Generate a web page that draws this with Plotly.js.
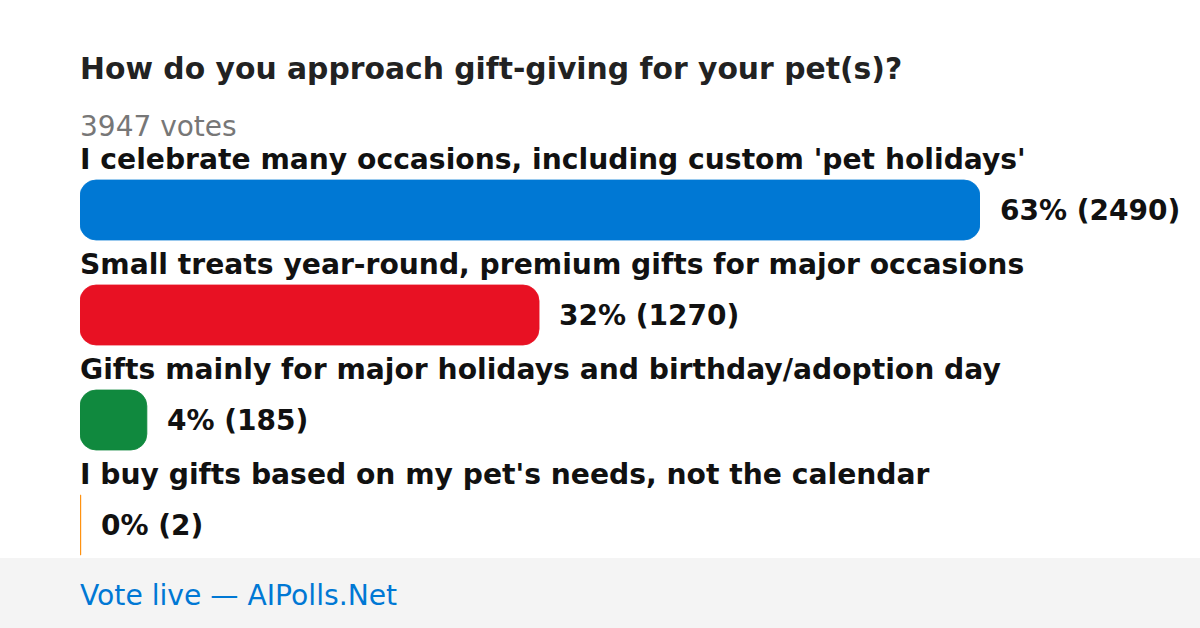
<!DOCTYPE html>
<html><head><meta charset="utf-8">
<script src="https://cdn.plot.ly/plotly-3.0.1.min.js"></script>
<style>html,body{margin:0;padding:0;background:#fff}#c{width:1200px;height:628px}</style>
</head><body><div id="c"></div>
<script>
const title = "How do you approach gift-giving for your pet(s)?";
const totalVotes = 3947;
const categories = [
  "I celebrate many occasions, including custom 'pet holidays'",
  "Small treats year-round, premium gifts for major occasions",
  "Gifts mainly for major holidays and birthday/adoption day",
  "I buy gifts based on my pet's needs, not the calendar"
];
const votes = [2490, 1270, 185, 2];
const percents = [63, 32, 4, 0];
const colors = ["#0078D4", "#E81123", "#10893E", "#FF8C00"];

const F = "DejaVu Sans, sans-serif";
const ypos = categories.map((_, i) => i);
const maxV = Math.max(...votes);

// plot area: x 80..980 px, y 150..560 px (105 px per category)
const PT = 150, PB = 560, PH = PB - PT;
const py = p => (PB - p) / PH;  // pixel row -> paper y

const trace = {
  type: "bar", orientation: "h", y: ypos, x: votes, width: 60/105, base: votes.map(() => 0),
  marker: {color: colors, cornerradius: 16, line: {width: 0.8, color: colors}},
  hoverinfo: "none"
};

const ann = [];
categories.forEach((c, i) => {
  ann.push({x: 0, y: i, xref: "x", yref: "y", text: "<b>" + c + "</b>", showarrow: false,
    xanchor: "left", yanchor: "middle", yshift: 51, xshift: -2, font: {family: F, size: 28.2, color: "#111"}});
  ann.push({x: votes[i], y: i, xref: "x", yref: "y", text: "<b>" + percents[i] + "% (" + votes[i] + ")</b>",
    showarrow: false, xanchor: "left", yanchor: "middle", xshift: 18, font: {family: F, size: 28, color: "#111"}});
});
ann.push({xref: "paper", yref: "paper", x: 0, y: py(68), text: "<b>" + title + "</b>", showarrow: false,
  xanchor: "left", yanchor: "middle", xshift: -2, font: {family: F, size: 29.8, color: "#222"}});
ann.push({xref: "paper", yref: "paper", x: 0, y: py(127), text: totalVotes + " votes", showarrow: false,
  xanchor: "left", yanchor: "middle", xshift: -2, font: {family: F, size: 28, color: "#777"}});
ann.push({xref: "paper", yref: "paper", x: 0, y: py(595), text: "Vote live — AIPolls.Net", showarrow: false,
  xanchor: "left", yanchor: "middle", xshift: -2, font: {family: F, size: 28.2, color: "#0078D4"}});

const layout = {
  width: 1200, height: 628,
  margin: {l: 80, r: 220, t: PT, b: 628 - PB, pad: 0},
  paper_bgcolor: "#fff", plot_bgcolor: "rgba(0,0,0,0)",
  showlegend: false,
  xaxis: {range: [0, maxV], visible: false, fixedrange: true},
  yaxis: {range: [3 + (PB - 525) / 105, -(210 - PT) / 105], visible: false, fixedrange: true},
  shapes: [{type: "rect", xref: "paper", yref: "paper", x0: -80/900, x1: 1120/900, y0: py(628), y1: py(558),
    fillcolor: "#F4F4F4", line: {width: 0}, layer: "below"}],
  annotations: ann
};
Plotly.newPlot("c", [trace], layout, {displayModeBar: false, staticPlot: true});
</script></body></html>
